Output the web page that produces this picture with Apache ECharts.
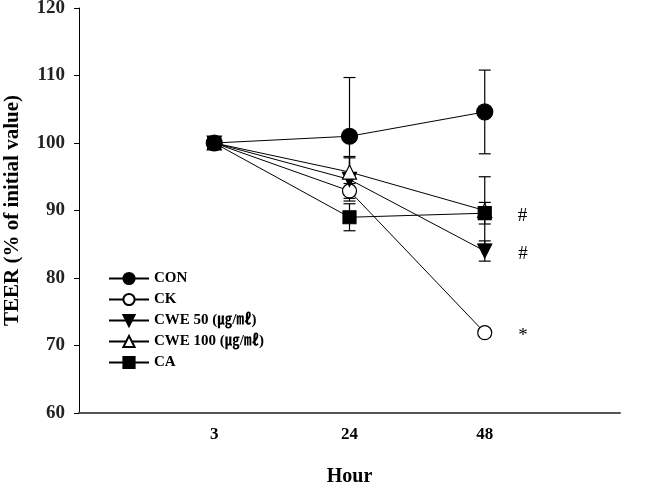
<!DOCTYPE html>
<html>
<head>
<meta charset="utf-8">
<script src="https://cdn.jsdelivr.net/npm/echarts@6/dist/echarts.min.js"></script>
<style>html,body{margin:0;padding:0;background:#fff;}#c{width:647px;height:485px;}</style>
</head>
<body>
<div id="c"></div>
<script>
var hours = ['3', '24', '48'];
var seriesNames = ['CON', 'CK', 'CWE 50 (\u338D/\u3396)', 'CWE 100 (\u338D/\u3396)', 'CA'];
var conVals = [100, 101.0, 104.6];
var ckVals = [100, 92.9, 71.9];
var cwe50Vals = [100, 94.6, 84.0];
var cwe100Vals = [100, 95.7, 90.0];
var caVals = [100, 89.0, 89.6];
var conErr = [0, 8.7, 6.2];
var ckErr = [0, 1.1, 0.6];
var cwe50Err = [0, 3.2, 1.5];
var cwe100Err = [0, 2.3, 5.0];
var caErr = [0, 2.0, 1.6];
var marks48 = ['', '*', '#', '', '#'];
var yTicks = [60, 70, 80, 90, 100, 110, 120];

var allVals = [conVals, ckVals, cwe50Vals, cwe100Vals, caVals];
var allErr = [conErr, ckErr, cwe50Err, cwe100Err, caErr];
var symbols = ['circle', 'circle', 'triangle', 'triangle', 'rect'];
var rotates = [0, 0, 180, 0, 0];
var fills = ['#000', '#fff', '#000', '#fff', '#000'];
var sizes = [16, 14, 14, 14, 13];

var categories = [''].concat(hours).concat(['']);
var FONT = '"Liberation Serif", "Times New Roman", "Noto Sans CJK KR", serif';

var series = [];
allVals.forEach(function (vals, si) {
  series.push({
    type: 'custom',
    z: 1,
    silent: true,
    data: hours.map(function (h, i) { return [h, vals[i] - allErr[si][i], vals[i] + allErr[si][i]]; })
      .filter(function (d, i) { return allErr[si][i] > 0; }),
    renderItem: function (params, api) {
      var lo = api.coord([api.value(0), api.value(1)]);
      var hi = api.coord([api.value(0), api.value(2)]);
      var w = 6;
      var st = { stroke: '#000', lineWidth: 1.2 };
      return { type: 'group', children: [
        { type: 'line', shape: { x1: lo[0], y1: lo[1], x2: hi[0], y2: hi[1] }, style: st },
        { type: 'line', shape: { x1: lo[0] - w, y1: lo[1], x2: lo[0] + w, y2: lo[1] }, style: st },
        { type: 'line', shape: { x1: hi[0] - w, y1: hi[1], x2: hi[0] + w, y2: hi[1] }, style: st }
      ]};
    }
  });
  series.push({
    type: 'line',
    name: seriesNames[si],
    z: 3,
    symbol: symbols[si],
    symbolSize: sizes[si],
    symbolRotate: rotates[si],
    showAllSymbol: true,
    lineStyle: { color: '#000', width: 1 },
    itemStyle: { color: fills[si], borderColor: '#000', borderWidth: 1.2 },
    data: hours.map(function (h, i) {
      var item = { value: [h, vals[i]] };
      if (i === hours.length - 1 && marks48[si]) {
        item.label = { show: true, formatter: marks48[si], position: 'right', distance: 26,
          fontFamily: FONT, fontSize: 19, color: '#000', offset: [0, 3] };
      }
      return item;
    }),
    animation: false
  });
});

var chart = echarts.init(document.getElementById('c'));
chart.setOption({
  animation: false,
  backgroundColor: '#fff',
  grid: { left: 79, top: 8, right: 27, bottom: 72, containLabel: false, outerBoundsMode: 'none' },
  legend: {
    orient: 'vertical',
    left: 103,
    top: 266,
    itemWidth: 40,
    itemHeight: 14,
    itemGap: 6,
    data: seriesNames,
    textStyle: { fontFamily: FONT, fontWeight: 'bold', fontSize: 15, color: '#000' }
  },
  xAxis: {
    type: 'category',
    data: categories,
    boundaryGap: false,
    name: 'Hour',
    nameLocation: 'middle',
    nameGap: 54,
    nameTextStyle: { fontFamily: FONT, fontWeight: 'bold', fontSize: 20, color: '#000' },
    axisLine: { lineStyle: { color: '#555', width: 2 } },
    axisTick: { show: false },
    axisLabel: { fontFamily: FONT, fontWeight: 'bold', fontSize: 17, color: '#000', margin: 13 },
    splitLine: { show: false }
  },
  yAxis: {
    type: 'value',
    min: yTicks[0],
    max: yTicks[yTicks.length - 1],
    interval: 10,
    name: 'TEER (% of initial value)',
    nameLocation: 'middle',
    nameGap: 56,
    nameTextStyle: { fontFamily: FONT, fontWeight: 'bold', fontSize: 21, color: '#000' },
    axisLine: { show: true, lineStyle: { color: '#000', width: 1 } },
    axisTick: { show: true, length: 5, lineStyle: { color: '#000' } },
    axisLabel: { fontFamily: FONT, fontWeight: 'bold', fontSize: 19, color: '#222', margin: 14 },
    splitLine: { show: false }
  },
  series: series
});
</script>
</body>
</html>
